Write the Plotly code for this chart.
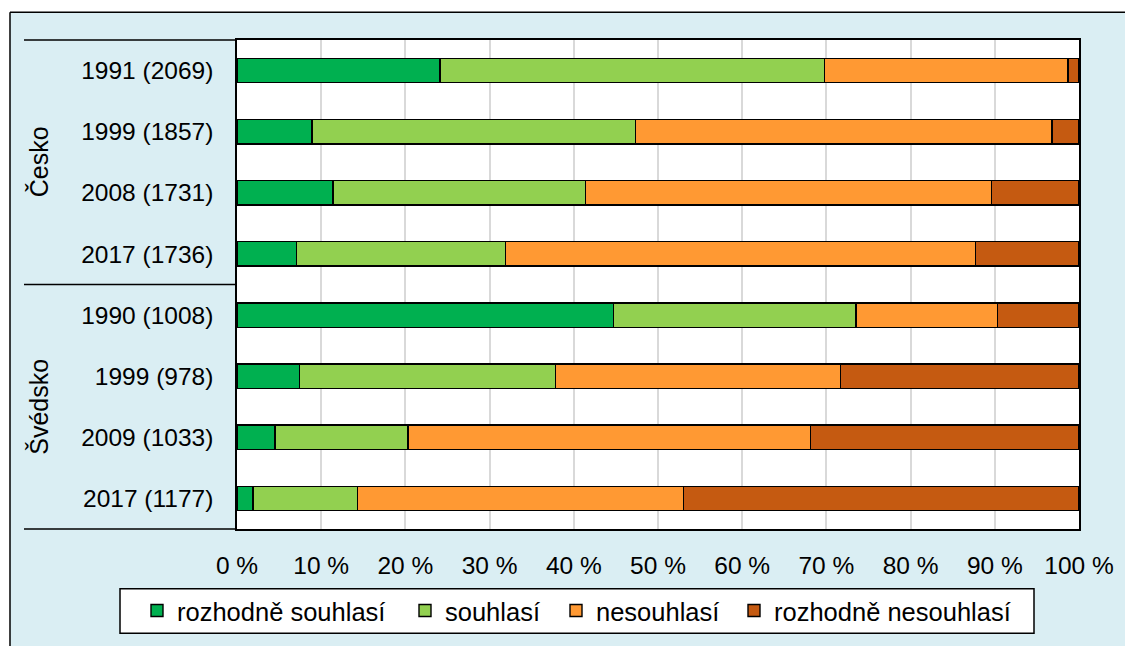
import plotly.graph_objects as go

categories = ["1991 (2069)", "1999 (1857)", "2008 (1731)", "2017 (1736)",
              "1990 (1008)", "1999 (978)", "2009 (1033)", "2017 (1177)"]
groups = ["Česko", "Švédsko"]
series_names = ["rozhodně souhlasí", "souhlasí", "nesouhlasí", "rozhodně nesouhlasí"]

rozhodne_souhlasi = [24.1, 8.9, 11.4, 7.1, 44.7, 7.4, 4.5, 1.9]
souhlasi = [45.7, 38.4, 30.0, 24.8, 28.8, 30.4, 15.8, 12.4]
nesouhlasi = [28.9, 49.5, 48.2, 55.8, 16.8, 33.9, 47.8, 38.7]
rozhodne_nesouhlasi = [1.3, 3.2, 10.4, 12.3, 9.7, 28.3, 31.9, 47.0]

tick_values = [0, 10, 20, 30, 40, 50, 60, 70, 80, 90, 100]
tick_labels = ["0 %", "10 %", "20 %", "30 %", "40 %", "50 %", "60 %", "70 %", "80 %", "90 %", "100 %"]

colors = ["#00B050", "#92D050", "#FF9933", "#C55A11"]
legend_widths = [223, 106, 133, 240]
series = [rozhodne_souhlasi, souhlasi, nesouhlasi, rozhodne_nesouhlasi]

OFF = 8  # page body margin
W, H = 1133 - OFF, 646 - OFF
L, R, T, B = 237, 1079, 40, 532  # plot area in page pixels


def px(x):
    return (x - L) / (R - L)


def py(y):
    return (B - y) / (B - T)


fig = go.Figure()
for name, vals, col, lw in zip(series_names, series, colors, legend_widths):
    fig.add_trace(go.Bar(
        y=categories, x=vals, name=name, orientation="h",
        marker=dict(color=col, line=dict(color="#000000", width=1.4)),
        legendwidth=lw,
    ))

font = "Liberation Sans, Arial, sans-serif"
shapes = [
    # white strips outside the chart frame
    dict(type="rect", xref="paper", yref="paper", x0=px(-20), x1=px(1160), y0=py(12), y1=py(-20),
         fillcolor="white", line=dict(width=0), layer="above"),
    dict(type="rect", xref="paper", yref="paper", x0=px(-20), x1=px(10), y0=py(680), y1=py(-20),
         fillcolor="white", line=dict(width=0), layer="above"),
    # frame lines
    dict(type="line", xref="paper", yref="paper", x0=px(10), x1=px(1160), y0=py(12), y1=py(12),
         line=dict(color="#000000", width=1.5)),
    dict(type="line", xref="paper", yref="paper", x0=px(10), x1=px(10), y0=py(12), y1=py(680),
         line=dict(color="#000000", width=1.5)),
    # legend box
    dict(type="rect", xref="paper", yref="paper", x0=px(120), x1=px(1034), y0=py(592), y1=py(637),
         fillcolor="#FFFFFF", line=dict(color="#000000", width=1.5), layer="below"),
]
# group separator lines in the category area
for yy in [1.0, 0.5, 0.0]:
    shapes.append(dict(type="line", xref="paper", yref="paper", x0=px(24), x1=0, y0=yy, y1=yy,
                       line=dict(color="#000000", width=1.5)))

annotations = [
    dict(text=groups[0], xref="paper", yref="paper", x=px(39), y=0.75, textangle=-90,
         xanchor="center", yanchor="middle",
         showarrow=False, font=dict(size=25, color="#000000", family=font)),
    dict(text=groups[1], xref="paper", yref="paper", x=px(39), y=0.25, textangle=-90,
         xanchor="center", yanchor="middle",
         showarrow=False, font=dict(size=25, color="#000000", family=font)),
]

fig.update_layout(
    width=W, height=H,
    margin=dict(l=L - OFF, r=W - (R - OFF), t=T - OFF, b=H - (B - OFF), pad=0),
    paper_bgcolor="#DAEEF3",
    plot_bgcolor="#FFFFFF",
    barmode="stack",
    bargap=0.6,
    font=dict(family=font, size=24.5, color="#000000"),
    showlegend=True,
    legend=dict(orientation="h", x=px(137), xanchor="left", y=py(614.5), yanchor="middle",
                bgcolor="rgba(0,0,0,0)", borderwidth=0,
                font=dict(size=25.5, color="#000000", family=font), traceorder="normal"),
    shapes=shapes,
    annotations=annotations,
    xaxis=dict(range=[0, 100], tickvals=tick_values, ticktext=tick_labels,
               showgrid=True, gridcolor="#D9D9D9", gridwidth=1.5, zeroline=False,
               showline=True, linecolor="#000000", linewidth=1.5, mirror=True,
               ticks="", ticklabelstandoff=14, fixedrange=True),
    yaxis=dict(autorange="reversed", showgrid=False, zeroline=False,
               showline=True, linecolor="#000000", linewidth=1.5, mirror=True,
               ticks="", ticklabelstandoff=17, fixedrange=True),
)

fig.write_html("out.html")
